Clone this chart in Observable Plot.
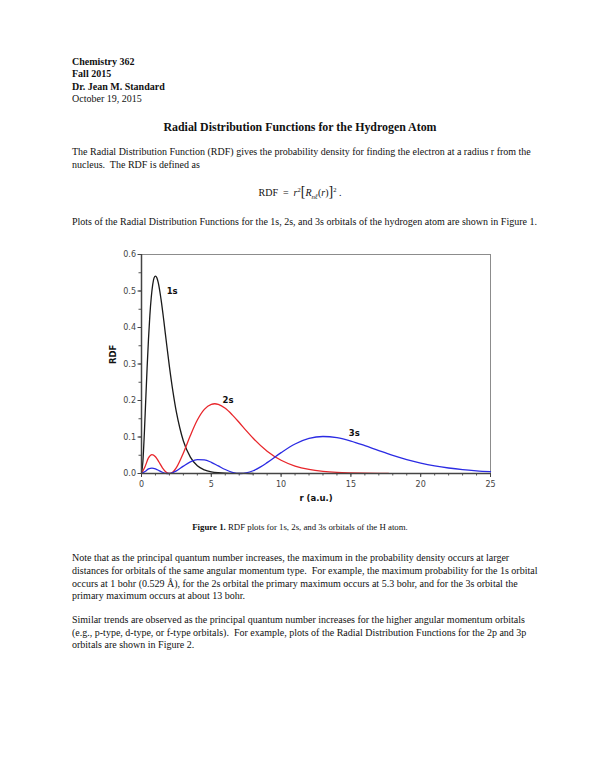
<!DOCTYPE html>
<html>
<head>
<meta charset="utf-8">
<script src="https://cdn.jsdelivr.net/npm/d3@7"></script>
<script src="https://cdn.jsdelivr.net/npm/@observablehq/plot@0.6"></script>
<style>
  html, body { margin: 0; padding: 0; background: #fff; }
  #page { position: relative; width: 600px; height: 776px; overflow: hidden; font-family: "Liberation Serif", "Times New Roman", serif; color: #111; }
  .ln { position: absolute; white-space: nowrap; line-height: 12px; font-size: 10px; }
  .b { font-weight: bold; }
  .c { left: 0; width: 600px; text-align: center; }
  #chart { position: absolute; left: 0; top: 240px; }
</style>
</head>
<body>
<div id="page">
  <div class="ln b" style="left:72px;top:56px">Chemistry 362</div>
  <div class="ln b" style="left:72px;top:68px">Fall 2015</div>
  <div class="ln b" style="left:72px;top:81px">Dr. Jean M. Standard</div>
  <div class="ln" style="left:72px;top:93px">October 19, 2015</div>

  <div class="ln b c" style="top:121px;font-size:11.9px">Radial Distribution Functions for the Hydrogen Atom</div>

  <div class="ln" style="left:72px;top:146px">The Radial Distribution Function (RDF) gives the probability density for finding the electron at a radius r from the</div>
  <div class="ln" style="left:72px;top:159px">nucleus.&nbsp; The RDF is defined as</div>

  <div class="ln c" style="top:184px">RDF&nbsp; = &nbsp;<i>r</i><sup style="font-size:6.5px">2</sup><span style="font-size:14px">[</span><i>R</i><sub style="font-size:7px"><i>nℓ</i></sub>(<i>r</i>)<span style="font-size:14px">]</span><sup style="font-size:6.5px">2</sup>&nbsp;.</div>

  <div class="ln" style="left:72px;top:216px">Plots of the Radial Distribution Functions for the 1s, 2s, and 3s orbitals of the hydrogen atom are shown in Figure 1.</div>

  <div id="chart"></div>

  <div class="ln c" style="top:521px;font-size:8.8px"><b>Figure 1.</b> RDF plots for 1s, 2s, and 3s orbitals of the H atom.</div>

  <div class="ln" style="left:72px;top:552px">Note that as the principal quantum number increases, the maximum in the probability density occurs at larger</div>
  <div class="ln" style="left:72px;top:565px">distances for orbitals of the same angular momentum type.&nbsp; For example, the maximum probability for the 1s orbital</div>
  <div class="ln" style="left:72px;top:578px">occurs at 1 bohr (0.529 Å), for the 2s orbital the primary maximum occurs at 5.3 bohr, and for the 3s orbital the</div>
  <div class="ln" style="left:72px;top:590px">primary maximum occurs at about 13 bohr.</div>

  <div class="ln" style="left:72px;top:614px">Similar trends are observed as the principal quantum number increases for the higher angular momentum orbitals</div>
  <div class="ln" style="left:72px;top:627px">(e.g., p-type, d-type, or f-type orbitals).&nbsp; For example, plots of the Radial Distribution Functions for the 2p and 3p</div>
  <div class="ln" style="left:72px;top:639px">orbitals are shown in Figure 2.</div>
</div>
<script>
// ---- data ----
const r1s   = [0,0.1,0.2,0.3,0.4,0.5,0.6,0.7,0.8,0.9,1.0,1.1,1.2,1.4,1.6,1.8,2.0,2.25,2.5,2.75,3.0,3.5,4.0,4.5,5.0,5.5,6.0,7.0,8.0];
const rdf1s = [0,0.033,0.107,0.198,0.288,0.368,0.434,0.483,0.517,0.536,0.541,0.536,0.523,0.477,0.418,0.354,0.293,0.225,0.168,0.124,0.089,0.045,0.021,0.010,0.0045,0.002,0.0009,0.0002,0];

const r2s   = [0,0.25,0.5,0.75,1,1.25,1.5,1.75,2,2.25,2.5,3,3.5,4,4.5,5,5.25,5.5,6,6.5,7,7.5,8,9,10,11,12,13,14,15,16,17.7];
const rdf2s = [0,0.0186,0.0427,0.0519,0.0460,0.0315,0.0157,0.0042,0,0.0042,0.0160,0.0560,0.1040,0.1465,0.1758,0.1895,0.1911,0.1893,0.1785,0.1607,0.1397,0.1176,0.0966,0.0612,0.0363,0.0205,0.0111,0.0058,0.0029,0.0015,0.0007,0.0002];

const r3s   = [0,0.25,0.5,0.75,1,1.25,1.5,1.75,1.9,2.25,2.5,3,3.5,4,4.5,5,5.5,6,6.5,7.1,7.5,8,8.5,9,10,11,12,13,14,15,16,17,18,19,20,21,22,23,24,25];
const rdf3s = [0,0.0055,0.0125,0.0148,0.0126,0.0080,0.0034,0.0005,0,0.0026,0.0073,0.0201,0.0319,0.0382,0.0373,0.0306,0.0208,0.0109,0.0034,0,0.0016,0.0076,0.0174,0.0298,0.0572,0.0809,0.0961,0.1014,0.0981,0.0890,0.0764,0.0628,0.0498,0.0383,0.0287,0.0210,0.0151,0.0106,0.0074,0.0050];

const curveNames  = ["1s", "2s", "3s"];
const curveColors = ["#1a1a1a", "#e8262b", "#2b2be3"];
const labelR      = [1.8, 5.8, 14.85];
const labelRDF    = [0.50, 0.202, 0.110];

const xMajor = [0, 5, 10, 15, 20, 25];
const xMinor = d3.range(0, 26, 1);
const yMajor = [0, 0.1, 0.2, 0.3, 0.4, 0.5, 0.6];
const yMinor = d3.range(0, 0.601, 0.05);

// ---- build tables ----
const toRows = (rs, vs, name) => rs.map((r, i) => ({r, v: vs[i], orbital: name}));
const rows = [
  ...toRows(r1s, rdf1s, "1s"),
  ...toRows(r2s, rdf2s, "2s"),
  ...toRows(r3s, rdf3s, "3s")
];
const labels = curveNames.map((n, i) => ({name: n, r: labelR[i], v: labelRDF[i]}));

const chart = Plot.plot({
  width: 600,
  height: 280,
  marginLeft: 141,
  marginRight: 110,
  marginTop: 14,
  marginBottom: 47,
  style: {fontFamily: "DejaVu Sans, Verdana, sans-serif", background: "transparent", overflow: "visible"},
  x: {domain: [0, 25]},
  y: {domain: [0, 0.6]},
  color: {domain: curveNames, range: curveColors},
  marks: [
    // frame
    Plot.ruleY([0.6], {stroke: "#8c8c8c", strokeWidth: 1}),
    Plot.ruleX([25], {stroke: "#8c8c8c", strokeWidth: 1}),
    // minor ticks
    Plot.axisX({ticks: xMinor, tickSize: 2.5, text: null, label: null, stroke: "#555"}),
    Plot.axisY({ticks: yMinor, tickSize: 2.5, text: null, label: null, stroke: "#555"}),
    // major ticks
    Plot.axisX({ticks: xMajor, tickSize: 4, tickPadding: 4, fontSize: 8, fill: "#444", stroke: "#444", label: null}),
    Plot.axisY({ticks: yMajor, tickSize: 3.5, tickPadding: 2, fontSize: 8, fill: "#444", stroke: "#444", tickFormat: d3.format(".1f"), label: null}),
    // curves
    Plot.line(rows, {x: "r", y: "v", z: "orbital", stroke: "orbital", strokeWidth: 1.3, curve: "monotone-x"}),
    // axis lines
    Plot.ruleX([0], {stroke: "#444", strokeWidth: 1.5}),
    Plot.ruleY([0], {stroke: "#444", strokeWidth: 1.5}),
    // curve labels
    Plot.text(labels, {x: "r", y: "v", text: "name", textAnchor: "start", fontWeight: "bold", fontSize: 8.5, fill: "#111"}),
    // axis titles
    Plot.text(["RDF"], {frameAnchor: "left", dx: -28, rotate: -90, fontWeight: "bold", fontSize: 8.5, fill: "#111"}),
    Plot.text(["r (a.u.)"], {frameAnchor: "bottom", dy: 27, fontWeight: "bold", fontSize: 8.5, fill: "#111"})
  ]
});
document.getElementById("chart").appendChild(chart);
</script>
</body>
</html>
